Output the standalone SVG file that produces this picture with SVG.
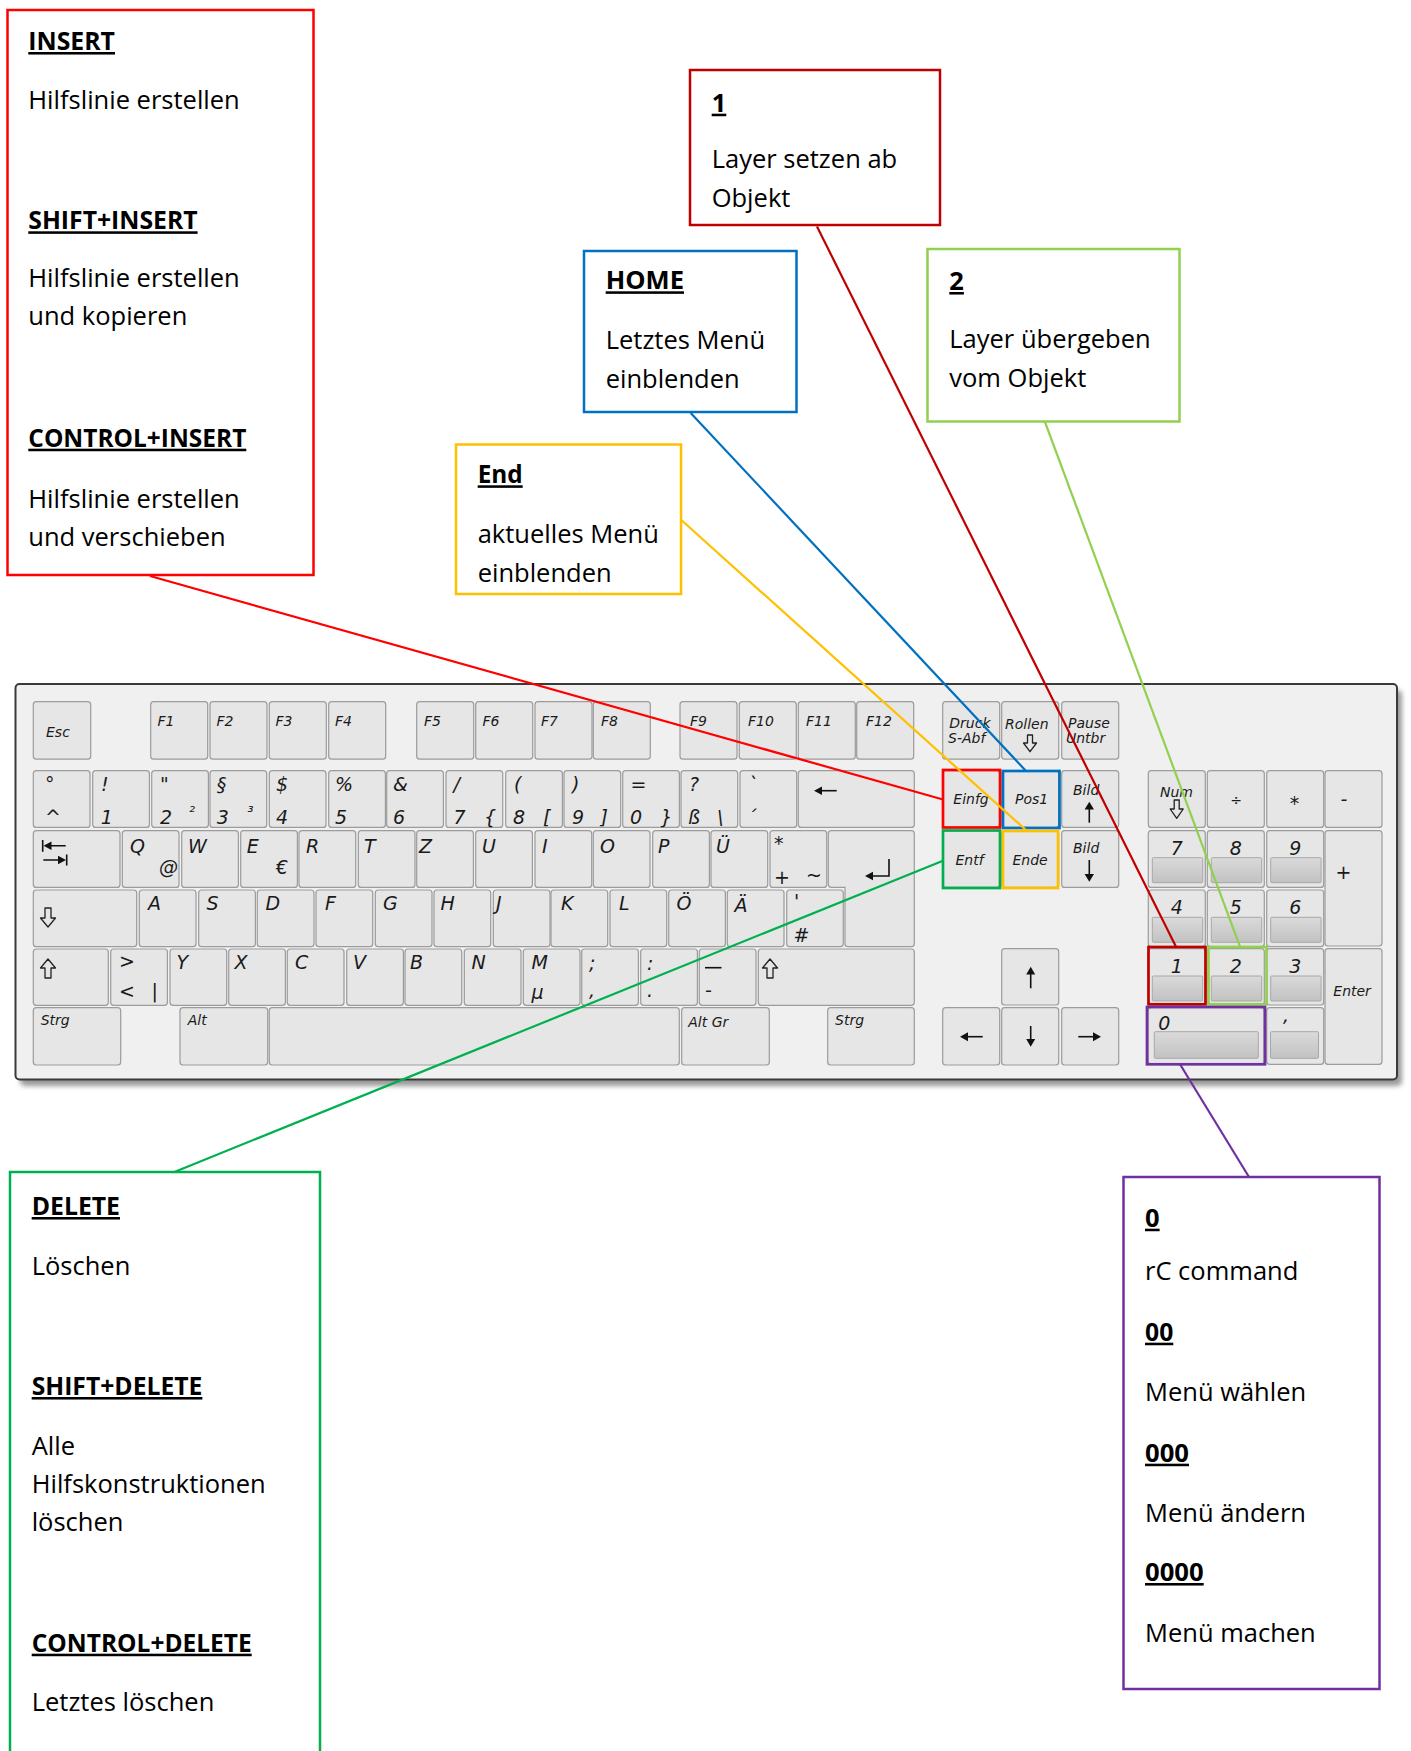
<svg xmlns="http://www.w3.org/2000/svg" width="1411" height="1751" viewBox="0 0 1411 1751">
<style>
.k{fill:#e6e6e6;stroke:#9c9c9c;stroke-width:1.2}
.kl{font-family:"DejaVu Sans",sans-serif;font-style:italic;font-size:19px;fill:#1a1a1a}
.ks{font-family:"DejaVu Sans",sans-serif;font-style:italic;font-size:14px;fill:#1a1a1a}
.kx{font-family:"DejaVu Sans",sans-serif;font-style:italic;font-size:15px;fill:#1a1a1a}
.bar{fill:url(#gb);stroke:#a8a8a8;stroke-width:1}
.ic{fill:#111;stroke:none}
.ol{fill:none;stroke:#222;stroke-width:1.3;stroke-linejoin:round}
.ln{stroke:#111;stroke-width:1.6;fill:none}
.box{fill:#fff;stroke-width:2.5}
.hl{fill:none;stroke-width:2.7}
.h{font-family:"Open Sans",sans-serif;font-weight:bold;font-size:25.5px;text-decoration:underline;fill:#000}
.t{font-family:"Open Sans",sans-serif;font-size:25.5px;fill:#000}
.c{fill:none;stroke-width:2.2}
</style>
<defs>
<linearGradient id="gb" x1="0" y1="0" x2="0" y2="1"><stop offset="0" stop-color="#dadada"/><stop offset="1" stop-color="#c2c2c2"/></linearGradient>
<filter id="sh" x="-5%" y="-5%" width="110%" height="115%"><feGaussianBlur stdDeviation="2.5"/></filter>
</defs>
<rect width="1411" height="1751" fill="#fff"/>

<g id="keyboard">
<rect x="20" y="690" width="1382" height="396" rx="5" fill="#9a9a9a" filter="url(#sh)"/>
<rect x="15.5" y="684" width="1381.5" height="395.5" rx="4" fill="#f0f0f0" stroke="#3a3a3a" stroke-width="2"/>
<rect class="k" x="33.3" y="701.7" width="57.4" height="57.5" rx="3"/><text class="ks" x="46" y="736.7">Esc</text>
<rect class="k" x="150.7" y="701.7" width="57" height="57.5" rx="3"/><text class="ks" x="157.5" y="726">F1</text>
<rect class="k" x="210" y="701.7" width="57" height="57.5" rx="3"/><text class="ks" x="216.5" y="726">F2</text>
<rect class="k" x="269.3" y="701.7" width="57" height="57.5" rx="3"/><text class="ks" x="275.5" y="726">F3</text>
<rect class="k" x="328.7" y="701.7" width="57" height="57.5" rx="3"/><text class="ks" x="335" y="726">F4</text>
<rect class="k" x="416.7" y="701.7" width="57" height="57.5" rx="3"/><text class="ks" x="424" y="726">F5</text>
<rect class="k" x="475.7" y="701.7" width="57" height="57.5" rx="3"/><text class="ks" x="482.5" y="726">F6</text>
<rect class="k" x="535" y="701.7" width="57" height="57.5" rx="3"/><text class="ks" x="541" y="726">F7</text>
<rect class="k" x="593.3" y="701.7" width="57" height="57.5" rx="3"/><text class="ks" x="601" y="726">F8</text>
<rect class="k" x="680" y="701.7" width="57" height="57.5" rx="3"/><text class="ks" x="690" y="726">F9</text>
<rect class="k" x="739.3" y="701.7" width="57" height="57.5" rx="3"/><text class="ks" x="748" y="726">F10</text>
<rect class="k" x="798.3" y="701.7" width="57" height="57.5" rx="3"/><text class="ks" x="806" y="726">F11</text>
<rect class="k" x="856.7" y="701.7" width="57" height="57.5" rx="3"/><text class="ks" x="866" y="726">F12</text>
<rect class="k" x="33.3" y="770.7" width="56.7" height="56.7" rx="3"/><text class="kl" x="45" y="791">°</text><text class="kl" x="45" y="824">^</text>
<rect class="k" x="92.7" y="770.7" width="56.7" height="56.7" rx="3"/><text class="kl" x="101" y="791">!</text><text class="kl" x="100.7" y="824">1</text>
<rect class="k" x="151.7" y="770.7" width="56.7" height="56.7" rx="3"/><text class="kl" x="160" y="791">"</text><text class="kl" x="160" y="824">2</text><text class="kx" x="189" y="817">²</text>
<rect class="k" x="210" y="770.7" width="56.7" height="56.7" rx="3"/><text class="kl" x="216.7" y="791">§</text><text class="kl" x="216.7" y="824">3</text><text class="kx" x="247.5" y="817">³</text>
<rect class="k" x="269.3" y="770.7" width="56.7" height="56.7" rx="3"/><text class="kl" x="276" y="791">$</text><text class="kl" x="276" y="824">4</text>
<rect class="k" x="328.7" y="770.7" width="56.7" height="56.7" rx="3"/><text class="kl" x="335" y="791">%</text><text class="kl" x="335" y="824">5</text>
<rect class="k" x="386.7" y="770.7" width="56.7" height="56.7" rx="3"/><text class="kl" x="393" y="791">&amp;</text><text class="kl" x="393" y="824">6</text>
<rect class="k" x="446" y="770.7" width="56.7" height="56.7" rx="3"/><text class="kl" x="453.5" y="791">/</text><text class="kl" x="453.5" y="824">7</text><text class="kl" x="484" y="824">{</text>
<rect class="k" x="505.7" y="770.7" width="56.7" height="56.7" rx="3"/><text class="kl" x="514" y="791">(</text><text class="kl" x="513" y="824">8</text><text class="kl" x="543" y="824">[</text>
<rect class="k" x="564" y="770.7" width="56.7" height="56.7" rx="3"/><text class="kl" x="572" y="791">)</text><text class="kl" x="572" y="824">9</text><text class="kl" x="600.5" y="824">]</text>
<rect class="k" x="622.7" y="770.7" width="56.7" height="56.7" rx="3"/><text class="kl" x="630.5" y="791">=</text><text class="kl" x="630" y="824">0</text><text class="kl" x="660.5" y="824">}</text>
<rect class="k" x="681" y="770.7" width="56.7" height="56.7" rx="3"/><text class="kl" x="689" y="791">?</text><text class="kl" x="688" y="824">ß</text><text class="kl" x="717" y="824">\</text>
<rect class="k" x="740" y="770.7" width="56.7" height="56.7" rx="3"/><text class="kl" x="748" y="791">`</text><text class="kl" x="747" y="824">´</text>
<rect class="k" x="798.3" y="770.7" width="116" height="56.7" rx="3"/>
<path class="ln" d="M820,790.7 H836.7"/><path class="ic" d="M814,790.7 L822,786.5 L822,794.9 Z"/>
<rect class="k" x="33.3" y="830.7" width="86.7" height="56.7" rx="3"/>
<path class="ln" d="M42.7,840 V851.7 M48,845.7 H65.7 M43.3,860 H61 M66.7,854.5 V865.5"/>
<path class="ic" d="M43.5,845.7 L51.5,841.5 L51.5,849.9 Z M66,860 L58,855.8 L58,864.2 Z"/>
<rect class="k" x="122.3" y="830.7" width="56.7" height="56.7" rx="3"/><text class="kl" x="130" y="852.7">Q</text><text class="kl" x="159" y="874">@</text>
<rect class="k" x="181.7" y="830.7" width="56.7" height="56.7" rx="3"/><text class="kl" x="188" y="852.7">W</text>
<rect class="k" x="240.7" y="830.7" width="56.7" height="56.7" rx="3"/><text class="kl" x="246.7" y="852.7">E</text><text class="kl" x="276" y="874">€</text>
<rect class="k" x="299" y="830.7" width="56.7" height="56.7" rx="3"/><text class="kl" x="306" y="852.7">R</text>
<rect class="k" x="358.3" y="830.7" width="56.7" height="56.7" rx="3"/><text class="kl" x="364" y="852.7">T</text>
<rect class="k" x="416.7" y="830.7" width="56.7" height="56.7" rx="3"/><text class="kl" x="419" y="852.7">Z</text>
<rect class="k" x="475.7" y="830.7" width="56.7" height="56.7" rx="3"/><text class="kl" x="482" y="852.7">U</text>
<rect class="k" x="535" y="830.7" width="56.7" height="56.7" rx="3"/><text class="kl" x="542" y="852.7">I</text>
<rect class="k" x="593.3" y="830.7" width="56.7" height="56.7" rx="3"/><text class="kl" x="600" y="852.7">O</text>
<rect class="k" x="652.7" y="830.7" width="56.7" height="56.7" rx="3"/><text class="kl" x="658" y="852.7">P</text>
<rect class="k" x="711" y="830.7" width="56.7" height="56.7" rx="3"/><text class="kl" x="716" y="852.7">Ü</text>
<rect class="k" x="770" y="830.7" width="56.7" height="56.7" rx="3"/><text class="kl" x="774" y="850">*</text><text class="kl" x="774" y="883.5">+</text><text class="kl" x="806" y="882">~</text>
<path class="k" d="M831.3,830.7 H911.3 Q914.3,830.7 914.3,833.7 V943.7 Q914.3,946.7 911.3,946.7 H848 Q845,946.7 845,943.7 V887.3 H831.3 Q828.3,887.3 828.3,884.3 V833.7 Q828.3,830.7 831.3,830.7 Z"/>
<path class="ln" d="M889,859 V876 H872"/><path class="ic" d="M865,876 L873,871.8 L873,880.2 Z"/>
<rect class="k" x="33.3" y="890" width="103.4" height="56.7" rx="3"/>
<path class="ol" d="M45,908 H51 V918 H55.5 L48,927 L40.5,918 H45 Z"/>
<rect class="k" x="139.3" y="890" width="56.7" height="56.7" rx="3"/><text class="kl" x="148" y="910">A</text>
<rect class="k" x="198.7" y="890" width="56.7" height="56.7" rx="3"/><text class="kl" x="206.5" y="910">S</text>
<rect class="k" x="257.3" y="890" width="56.7" height="56.7" rx="3"/><text class="kl" x="265.5" y="910">D</text>
<rect class="k" x="316" y="890" width="56.7" height="56.7" rx="3"/><text class="kl" x="325" y="910">F</text>
<rect class="k" x="375.3" y="890" width="56.7" height="56.7" rx="3"/><text class="kl" x="383" y="910">G</text>
<rect class="k" x="434" y="890" width="56.7" height="56.7" rx="3"/><text class="kl" x="440.5" y="910">H</text>
<rect class="k" x="493.3" y="890" width="56.7" height="56.7" rx="3"/><text class="kl" x="496" y="910">J</text>
<rect class="k" x="551" y="890" width="56.7" height="56.7" rx="3"/><text class="kl" x="561" y="910">K</text>
<rect class="k" x="610" y="890" width="56.7" height="56.7" rx="3"/><text class="kl" x="619" y="910">L</text>
<rect class="k" x="668.7" y="890" width="56.7" height="56.7" rx="3"/><text class="kl" x="676.5" y="910">Ö</text>
<rect class="k" x="727.3" y="890" width="56.7" height="56.7" rx="3"/><text class="kl" x="734.5" y="911.5">Ä</text>
<rect class="k" x="786.7" y="890" width="56.6" height="56.7" rx="3"/><text class="kl" x="794" y="908">'</text><text class="kl" x="793.5" y="941.7">#</text>
<rect class="k" x="33.3" y="949" width="75" height="56.3" rx="3"/>
<path class="ol" d="M48,959 L55.5,968 H51 V978 H45 V968 H40.5 Z"/>
<rect class="k" x="110.7" y="949" width="56.7" height="56.3" rx="3"/><text class="kl" x="119" y="968">&gt;</text><text class="kl" x="119" y="998">&lt;</text><text class="kl" x="151.5" y="998">|</text>
<rect class="k" x="170" y="949" width="56.7" height="56.3" rx="3"/><text class="kl" x="176.5" y="969">Y</text>
<rect class="k" x="228.7" y="949" width="56.7" height="56.3" rx="3"/><text class="kl" x="234.5" y="969">X</text>
<rect class="k" x="287.3" y="949" width="56.7" height="56.3" rx="3"/><text class="kl" x="295" y="969">C</text>
<rect class="k" x="346.7" y="949" width="56.7" height="56.3" rx="3"/><text class="kl" x="353" y="969">V</text>
<rect class="k" x="405" y="949" width="56.7" height="56.3" rx="3"/><text class="kl" x="410" y="969">B</text>
<rect class="k" x="464.3" y="949" width="56.7" height="56.3" rx="3"/><text class="kl" x="471.5" y="969">N</text>
<rect class="k" x="523.3" y="949" width="56.7" height="56.3" rx="3"/><text class="kl" x="531.5" y="969">M</text><text class="kl" x="531.5" y="999">µ</text>
<rect class="k" x="581.7" y="949" width="56.7" height="56.3" rx="3"/><text class="kl" x="589" y="970">;</text><text class="kl" x="589" y="997">,</text>
<rect class="k" x="640.7" y="949" width="56.7" height="56.3" rx="3"/><text class="kl" x="647" y="970">:</text><text class="kl" x="647" y="997">.</text>
<rect class="k" x="699.3" y="949" width="56.7" height="56.3" rx="3"/><path class="ln" d="M705,967.7 H721.5"/><text class="kl" x="705" y="997">-</text>
<rect class="k" x="758.3" y="949" width="156" height="56.3" rx="3"/>
<path class="ol" d="M770,959 L777.5,968 H773 V978 H767 V968 H762.5 Z"/>
<rect class="k" x="33.3" y="1007.7" width="87.4" height="57.3" rx="3"/><text class="ks" x="40.7" y="1025">Strg</text>
<rect class="k" x="180" y="1007.7" width="87.7" height="57.3" rx="3"/><text class="ks" x="187.7" y="1025">Alt</text>
<rect class="k" x="269.3" y="1007.7" width="410" height="57.3" rx="3"/>
<rect class="k" x="681.7" y="1007.7" width="87.6" height="57.3" rx="3"/><text class="ks" x="688.3" y="1026.5">Alt Gr</text>
<rect class="k" x="827.7" y="1007.7" width="86.6" height="57.3" rx="3"/><text class="ks" x="835" y="1025">Strg</text>
<rect class="k" x="942.7" y="701.7" width="57" height="57.5" rx="3"/><text class="ks" x="949.3" y="728.3">Druck</text><text class="ks" x="948" y="743.3">S-Abf</text>
<rect class="k" x="1001.7" y="701.7" width="57" height="57.5" rx="3"/><text class="ks" x="1005" y="729.3">Rollen</text>
<path class="ol" d="M1027.5,735 H1032.5 V743 H1036.5 L1030,751.7 L1023.5,743 H1027.5 Z"/>
<rect class="k" x="1061.7" y="701.7" width="57" height="57.5" rx="3"/><text class="ks" x="1068" y="728.3">Pause</text><text class="ks" x="1066" y="743.3">Untbr</text>
<rect class="k" x="942.7" y="770.7" width="57" height="56.7" rx="3"/><text class="ks" x="953.3" y="804">Einfg</text>
<rect class="k" x="1001.7" y="770.7" width="57" height="56.7" rx="3"/><text class="ks" x="1015" y="804">Pos1</text>
<rect class="k" x="1061.7" y="770.7" width="57" height="56.7" rx="3"/><text class="ks" x="1073" y="795">Bild</text>
<path class="ln" d="M1089.3,807 V822.7"/><path class="ic" d="M1089.3,801.7 L1094,809.5 L1084.6,809.5 Z"/>
<rect class="k" x="942.7" y="830.7" width="57" height="56.7" rx="3"/><text class="ks" x="955.5" y="865">Entf</text>
<rect class="k" x="1001.7" y="830.7" width="57" height="56.7" rx="3"/><text class="ks" x="1012.5" y="865">Ende</text>
<rect class="k" x="1061.7" y="830.7" width="57" height="56.7" rx="3"/><text class="ks" x="1073" y="853.3">Bild</text>
<path class="ln" d="M1089.3,860 V875"/><path class="ic" d="M1089.3,881.7 L1094,873.9 L1084.6,873.9 Z"/>
<rect class="k" x="1001.7" y="948.7" width="57" height="56.3" rx="3"/>
<path class="ln" d="M1030.7,973 V988.3"/><path class="ic" d="M1030.7,966.7 L1035.2,974.5 L1026.2,974.5 Z"/>
<rect class="k" x="942.7" y="1007.7" width="57" height="57.3" rx="3"/>
<path class="ln" d="M966,1036.7 H982.7"/><path class="ic" d="M960,1036.7 L968,1032.2 L968,1041.2 Z"/>
<rect class="k" x="1001.7" y="1007.7" width="57" height="57.3" rx="3"/>
<path class="ln" d="M1030.7,1026 V1041"/><path class="ic" d="M1030.7,1046.7 L1035.2,1038.9 L1026.2,1038.9 Z"/>
<rect class="k" x="1061.7" y="1007.7" width="57" height="57.3" rx="3"/>
<path class="ln" d="M1078.3,1036.7 H1095"/><path class="ic" d="M1101,1036.7 L1093,1032.2 L1093,1041.2 Z"/>
<rect class="k" x="1148.3" y="770.7" width="57" height="56.7" rx="3"/><text class="ks" x="1160" y="796.7">Num</text>
<path class="ol" d="M1174.2,800 H1179.2 V809 H1183.2 L1176.7,818.3 L1170.2,809 H1174.2 Z"/>
<rect class="k" x="1207.3" y="770.7" width="57" height="56.7" rx="3"/><text class="ks" x="1236" y="805" text-anchor="middle">÷</text>
<rect class="k" x="1266.7" y="770.7" width="57" height="56.7" rx="3"/><text class="kl" x="1294.5" y="810" text-anchor="middle">*</text>
<rect class="k" x="1325" y="770.7" width="57" height="56.7" rx="3"/><text class="kl" x="1344" y="806" text-anchor="middle">-</text>
<rect class="k" x="1148.3" y="830.7" width="57" height="56.7" rx="3"/><rect class="bar" x="1152.3" y="857.7" width="50.4" height="25" rx="1"/><text class="kl" x="1176.8" y="855" text-anchor="middle">7</text>
<rect class="k" x="1207.3" y="830.7" width="57" height="56.7" rx="3"/><rect class="bar" x="1211.3" y="857.7" width="50.4" height="25" rx="1"/><text class="kl" x="1235.8" y="855" text-anchor="middle">8</text>
<rect class="k" x="1266.7" y="830.7" width="57" height="56.7" rx="3"/><rect class="bar" x="1270.7" y="857.7" width="50.4" height="25" rx="1"/><text class="kl" x="1295.2" y="855" text-anchor="middle">9</text>
<rect class="k" x="1325" y="830.7" width="57" height="115.3" rx="3"/><text class="kl" x="1343.5" y="879" text-anchor="middle">+</text>
<rect class="k" x="1148.3" y="890" width="57" height="56.7" rx="3"/><rect class="bar" x="1152.3" y="917.3" width="50.4" height="25" rx="1"/><text class="kl" x="1176.8" y="914.3" text-anchor="middle">4</text>
<rect class="k" x="1207.3" y="890" width="57" height="56.7" rx="3"/><rect class="bar" x="1211.3" y="917.3" width="50.4" height="25" rx="1"/><text class="kl" x="1235.8" y="914.3" text-anchor="middle">5</text>
<rect class="k" x="1266.7" y="890" width="57" height="56.7" rx="3"/><rect class="bar" x="1270.7" y="917.3" width="50.4" height="25" rx="1"/><text class="kl" x="1295.2" y="914.3" text-anchor="middle">6</text>
<rect class="k" x="1148.3" y="948.7" width="57" height="56.3" rx="3"/><rect class="bar" x="1152.3" y="976" width="50.4" height="25" rx="1"/><text class="kl" x="1176.8" y="972.7" text-anchor="middle">1</text>
<rect class="k" x="1207.3" y="948.7" width="57" height="56.3" rx="3"/><rect class="bar" x="1211.3" y="976" width="50.4" height="25" rx="1"/><text class="kl" x="1235.8" y="972.7" text-anchor="middle">2</text>
<rect class="k" x="1266.7" y="948.7" width="57" height="56.3" rx="3"/><rect class="bar" x="1270.7" y="976" width="50.4" height="25" rx="1"/><text class="kl" x="1295.2" y="972.7" text-anchor="middle">3</text>
<rect class="k" x="1325" y="948.7" width="57" height="115.6" rx="3"/><text class="ks" x="1333.3" y="996">Enter</text>
<rect class="k" x="1148.3" y="1007.7" width="115.7" height="56.6" rx="3"/><rect class="bar" x="1154.3" y="1031.7" width="104" height="26.6" rx="1"/><text class="kl" x="1158.3" y="1030">0</text>
<rect class="k" x="1266.7" y="1007.7" width="57" height="56.6" rx="3"/><rect class="bar" x="1270.5" y="1031.7" width="48" height="26.6" rx="1"/><text class="kl" x="1283" y="1022">,</text>
</g>

<g id="highlights">
<rect class="hl" x="943" y="770" width="57" height="57.5" stroke="#ff0000"/>
<rect class="hl" x="1003" y="771" width="56.5" height="57" stroke="#0070c0"/>
<rect class="hl" x="943" y="830.5" width="57" height="57.5" stroke="#00b050"/>
<rect class="hl" x="1003" y="831" width="55" height="57" stroke="#ffc000"/>
<rect class="hl" x="1148.5" y="947" width="57" height="57.3" stroke="#c00000"/>
<rect class="hl" x="1208.5" y="947" width="58" height="57.3" stroke="#92d050"/>
<rect class="hl" x="1147" y="1007" width="118" height="57.3" stroke="#7030a0"/>
</g>

<g id="connectors">
<line class="c" x1="150" y1="576" x2="943" y2="799.5" stroke="#ff0000"/>
<line class="c" x1="817" y1="226.5" x2="1176" y2="946.7" stroke="#c00000"/>
<line class="c" x1="690.7" y1="413" x2="1026" y2="771" stroke="#0070c0"/>
<line class="c" x1="1045" y1="422" x2="1240" y2="946.7" stroke="#92d050"/>
<line class="c" x1="681.3" y1="520" x2="1027" y2="831" stroke="#ffc000"/>
<line class="c" x1="175" y1="1171.7" x2="943" y2="860.7" stroke="#00b050"/>
<line class="c" x1="1180" y1="1064.3" x2="1249" y2="1177" stroke="#7030a0"/>
</g>

<g id="box-insert">
<rect class="box" x="7.5" y="10" width="306" height="565" stroke="#ff0000"/>
<text class="h" x="28.3" y="50" textLength="86.7" lengthAdjust="spacingAndGlyphs">INSERT</text>
<text class="t" x="28.3" y="109">Hilfslinie erstellen</text>
<text class="h" x="28.3" y="229.3" textLength="169.3" lengthAdjust="spacingAndGlyphs">SHIFT+INSERT</text>
<text class="t" x="28.3" y="287.3">Hilfslinie erstellen</text>
<text class="t" x="28.3" y="325">und kopieren</text>
<text class="h" x="28.3" y="446.7" textLength="218" lengthAdjust="spacingAndGlyphs">CONTROL+INSERT</text>
<text class="t" x="28.3" y="508.3">Hilfslinie erstellen</text>
<text class="t" x="28.3" y="546">und verschieben</text>
</g>

<g id="box-1">
<rect class="box" x="690" y="70" width="250" height="155" stroke="#c00000"/>
<text class="h" x="711.7" y="111.7">1</text>
<text class="t" x="711.7" y="168.3">Layer setzen ab</text>
<text class="t" x="711.7" y="206.7">Objekt</text>
</g>

<g id="box-home">
<rect class="box" x="584" y="251" width="212.5" height="161" stroke="#0070c0"/>
<text class="h" x="605.7" y="289.3" textLength="78.3" lengthAdjust="spacingAndGlyphs">HOME</text>
<text class="t" x="605.7" y="349.3">Letztes Menü</text>
<text class="t" x="605.7" y="388">einblenden</text>
</g>

<g id="box-2">
<rect class="box" x="927.5" y="249" width="252" height="172.5" stroke="#92d050"/>
<text class="h" x="949.3" y="290">2</text>
<text class="t" x="949.3" y="348.3">Layer übergeben</text>
<text class="t" x="949.3" y="386.7">vom Objekt</text>
</g>

<g id="box-end">
<rect class="box" x="456" y="444.5" width="225" height="149.5" stroke="#ffc000"/>
<text class="h" x="477.7" y="483.3" textLength="45" lengthAdjust="spacingAndGlyphs">End</text>
<text class="t" x="477.7" y="543.3">aktuelles Menü</text>
<text class="t" x="477.7" y="581.7">einblenden</text>
</g>

<g id="box-delete">
<rect class="box" x="10" y="1172" width="310" height="600" stroke="#00b050"/>
<text class="h" x="31.7" y="1215" textLength="88.3" lengthAdjust="spacingAndGlyphs">DELETE</text>
<text class="t" x="31.7" y="1275">Löschen</text>
<text class="h" x="31.7" y="1395" textLength="170.7" lengthAdjust="spacingAndGlyphs">SHIFT+DELETE</text>
<text class="t" x="31.7" y="1455">Alle</text>
<text class="t" x="31.7" y="1492.7">Hilfskonstruktionen</text>
<text class="t" x="31.7" y="1530.7">löschen</text>
<text class="h" x="31.7" y="1651.7" textLength="220" lengthAdjust="spacingAndGlyphs">CONTROL+DELETE</text>
<text class="t" x="31.7" y="1711">Letztes löschen</text>
</g>

<g id="box-0">
<rect class="box" x="1123.5" y="1177" width="256" height="512" stroke="#7030a0"/>
<text class="h" x="1145" y="1226.7">0</text>
<text class="t" x="1145" y="1280">rC command</text>
<text class="h" x="1145" y="1340.7" textLength="28.3" lengthAdjust="spacingAndGlyphs">00</text>
<text class="t" x="1145" y="1401">Menü wählen</text>
<text class="h" x="1145" y="1461.7" textLength="44" lengthAdjust="spacingAndGlyphs">000</text>
<text class="t" x="1145" y="1521.7">Menü ändern</text>
<text class="h" x="1145" y="1581" textLength="58.7" lengthAdjust="spacingAndGlyphs">0000</text>
<text class="t" x="1145" y="1641.7">Menü machen</text>
</g>
</svg>
